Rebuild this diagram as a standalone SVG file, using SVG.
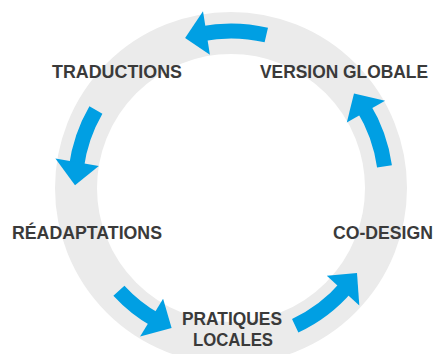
<svg xmlns="http://www.w3.org/2000/svg" width="434" height="354" viewBox="0 0 434 354">
  <style>
    .lbl { font-family: "Liberation Sans", Arial, sans-serif; font-weight: bold; font-size: 18px; fill: #3a3a3a; text-anchor: middle; }
    .shaft { fill: none; stroke: #009fe3; stroke-width: 15; stroke-linecap: butt; }
    .head { fill: #009fe3; }
  </style>
  <rect width="434" height="354" fill="#ffffff"/>
  <g id="ring">
    <circle cx="231" cy="188" r="155" fill="none" stroke="#ebebeb" stroke-width="42"/>
  </g>
  <g id="connectors">
    <g id="arrow-top">
      <path class="shaft" d="M 266.3 35.0 A 157 157 0 0 0 201.0 33.9"/>
      <polygon class="head" points="203,11.2 209.9,54.7 185.1,37.9"/>
    </g>
    <g id="arrow-left">
      <path class="shaft" d="M 95.9 110 A 156 156 0 0 0 76.3 167.6"/>
      <polygon class="head" points="55.4,158.6 98.8,165.9 75.0,185.3"/>
    </g>
    <g id="arrow-bottom-left">
      <path class="shaft" d="M 118.9 290.7 A 152 152 0 0 0 156.2 320.3"/>
      <polygon class="head" points="140.1,336.4 163.1,298.8 171.6,327.9"/>
    </g>
    <g id="arrow-bottom-right">
      <path class="shaft" d="M 295.2 325.8 A 152 152 0 0 0 346.6 286.7"/>
      <polygon class="head" points="359.3,305.6 326.8,275.8 357.0,273.0"/>
    </g>
    <g id="arrow-right">
      <path class="shaft" d="M 384.5 166.4 A 155 155 0 0 0 363.2 107.0"/>
      <polygon class="head" points="385.1,100.8 346.8,122.5 354.0,93.6"/>
    </g>
  </g>
  <g id="node-traductions">
    <text class="lbl" x="117" y="78" textLength="130" lengthAdjust="spacingAndGlyphs">TRADUCTIONS</text>
  </g>
  <g id="node-version-globale">
    <text class="lbl" x="344" y="78" textLength="168" lengthAdjust="spacingAndGlyphs">VERSION GLOBALE</text>
  </g>
  <g id="node-readaptations">
    <text class="lbl" x="87" y="239" textLength="150" lengthAdjust="spacingAndGlyphs">RÉADAPTATIONS</text>
  </g>
  <g id="node-co-design">
    <text class="lbl" x="383" y="239" textLength="100" lengthAdjust="spacingAndGlyphs">CO-DESIGN</text>
  </g>
  <g id="node-pratiques-locales">
    <text class="lbl" x="232" y="325" textLength="100" lengthAdjust="spacingAndGlyphs">PRATIQUES</text>
    <text class="lbl" x="233" y="346" textLength="80" lengthAdjust="spacingAndGlyphs">LOCALES</text>
  </g>
</svg>
